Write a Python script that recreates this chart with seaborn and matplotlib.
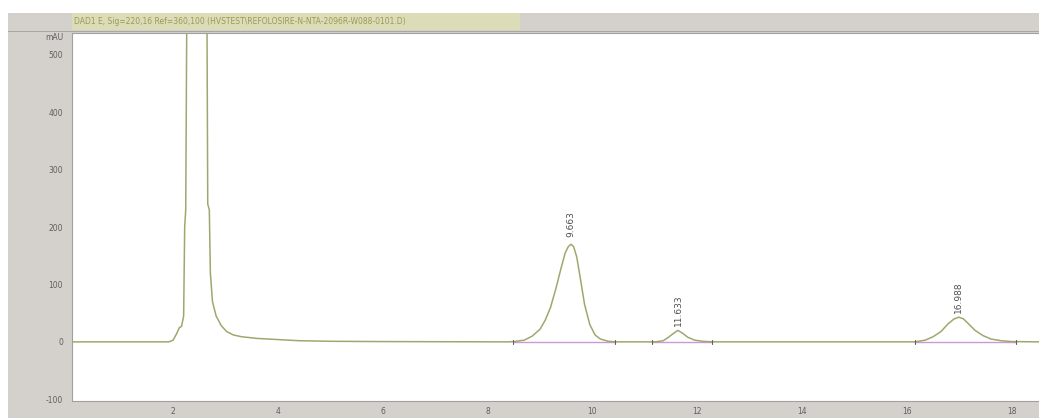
import matplotlib
matplotlib.use("Agg")
import matplotlib.pyplot as plt
import matplotlib.patches as mpatches
import seaborn as sns
import pandas as pd

# ---- data ----
time_min = [0.07, 1.92, 2.00, 2.07, 2.12, 2.16, 2.20, 2.22, 2.24, 2.28, 2.33, 2.58,
            2.63, 2.66, 2.69, 2.71, 2.75, 2.82, 2.92, 3.02, 3.15, 3.30, 3.60, 4.00,
            4.40, 5.00, 6.00, 8.40,
            8.50, 8.70, 8.85, 9.00, 9.10, 9.20, 9.30, 9.40, 9.48, 9.54, 9.59, 9.64,
            9.70, 9.77, 9.85, 9.95, 10.05, 10.15, 10.30, 10.45,
            11.20, 11.35, 11.45, 11.55, 11.63, 11.72, 11.82, 11.95, 12.10, 12.30,
            16.15, 16.35, 16.50, 16.65, 16.78, 16.90, 16.99, 17.08, 17.18, 17.30,
            17.45, 17.60, 17.80, 18.00, 18.52]
signal_mau = [0, 0, 3, 15, 25, 27, 45, 200, 230, 900, 2500, 2500,
              900, 240, 230, 120, 70, 45, 28, 18, 12, 9, 6, 4,
              2, 1, 0.5, 0,
              0.5, 3, 10, 22, 38, 60, 92, 128, 155, 166, 170, 166,
              148, 110, 65, 30, 12, 5, 1, 0,
              0, 2, 8, 15, 20, 15, 8, 3, 1, 0,
              0, 3, 9, 18, 31, 40, 43, 40, 31, 20,
              11, 5, 2, 0.5, 0]

peak_rt_labels = ["9.663", "11.633", "16.988"]
peak_label_x = [9.59, 11.65, 16.99]
peak_label_y = [182, 28, 50]
baseline_start = [8.49, 11.14, 16.15]
baseline_end = [10.43, 12.28, 18.08]

y_ticks = [-100, 0, 100, 200, 300, 400, 500]
x_ticks = [2, 4, 6, 8, 10, 12, 14, 16, 18]
title_text = "DAD1 E, Sig=220,16 Ref=360,100 (HVSTEST\\REFOLOSIRE-N-NTA-2096R-W088-0101.D)"

df = pd.DataFrame({"time": time_min, "signal": signal_mau})

sns.set_style("white")
plt.rcParams["font.family"] = ["DejaVu Sans"]

W, H = 1039, 418
fig = plt.figure(figsize=(W / 100, H / 100), dpi=100, facecolor="white")

# grey window panel
fig.patches.append(mpatches.Rectangle((8 / W, 0), 1 - 8 / W, (H - 13) / H,
                                      transform=fig.transFigure, facecolor="#d4d0cc",
                                      edgecolor="none", zorder=-2))
# title band
fig.patches.append(mpatches.Rectangle((72 / W, (H - 30) / H), (520 - 72) / W, 17 / H,
                                      transform=fig.transFigure, facecolor="#dcdcb8",
                                      edgecolor="none", zorder=-1))
fig.patches.append(mpatches.Rectangle((8 / W, (H - 32) / H), 1 - 8 / W, 1.5 / H,
                                      transform=fig.transFigure, facecolor="#a8a8a0",
                                      edgecolor="none", zorder=-1))
fig.text(74 / W, (H - 21.5) / H, title_text, fontsize=5.5, color="#9a9a55",
         va="center", ha="left", zorder=3)

ax = fig.add_axes([72 / W, (H - 401) / H, (W - 72) / W, (401 - 33) / H])
ax.set_zorder(2)
ax.set_facecolor("white")

sns.lineplot(data=df, x="time", y="signal", ax=ax, color="#a2a66e", linewidth=1.1,
             sort=False, estimator=None)

for s, e in zip(baseline_start, baseline_end):
    ax.plot([s, e], [0, 0], color="#c99ad6", linewidth=1.0, zorder=1)
    ax.plot([s, s], [-3, 3], color="#606060", linewidth=0.8)
    ax.plot([e, e], [-3, 3], color="#606060", linewidth=0.8)

for lab, x, y in zip(peak_rt_labels, peak_label_x, peak_label_y):
    ax.text(x, y, lab, rotation=90, ha="center", va="bottom", fontsize=6.5,
            color="#505050")

ax.set_xlim(0.07, 18.52)
ax.set_ylim(-103, 538)
ax.set_xticks(x_ticks)
ax.set_xticklabels([str(v) for v in x_ticks])
ax.set_yticks(y_ticks)
ax.set_yticklabels([str(v) for v in y_ticks])
ax.set_xlabel("")
ax.set_ylabel("")
ax.tick_params(axis="both", labelsize=5.5, labelcolor="#606060", colors="#909090",
               length=3, width=0.6, direction="out")
ax.tick_params(axis="x", pad=1.5)
for side, sp in ax.spines.items():
    sp.set_color("#a0a0a0")
    sp.set_linewidth(0.8)
ax.spines["right"].set_visible(False)

fig.text(63 / W, (H - 37) / H, "mAU", fontsize=5.5, color="#606060", ha="right",
         va="center", zorder=3)

fig.savefig("out.png", dpi=100, facecolor="white")
